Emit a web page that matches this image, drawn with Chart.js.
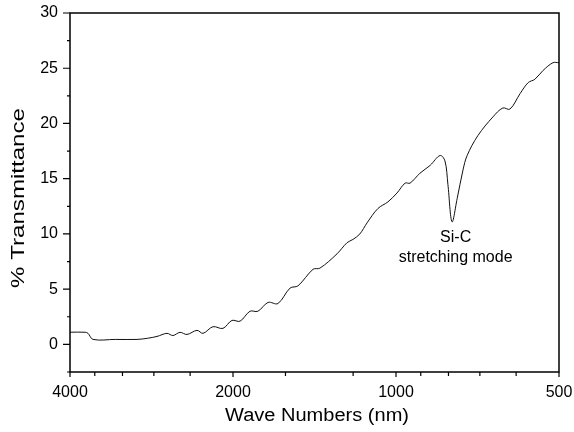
<!DOCTYPE html>
<html>
<head>
<meta charset="utf-8">
<script src="https://cdn.jsdelivr.net/npm/chart.js@4/dist/chart.umd.min.js"></script>
<style>
  html, body { margin: 0; padding: 0; background: #fff; }
  #wrap { width: 574px; height: 432px; }
</style>
</head>
<body>
<div id="wrap"><canvas id="irChart" width="574" height="432"></canvas></div>
<script>
// wave numbers
var waveNumbers = [4000, 3752, 3705, 3627, 3300, 3008, 2880, 2763, 2648, 2582, 2506, 2432, 2331, 2272, 2178, 2087,
    2009, 1941, 1861, 1799, 1723, 1652, 1569, 1517, 1423, 1382, 1285, 1232, 1201, 1166, 1131, 1080, 1035,
    996, 962, 942, 903, 865, 829, 812, 802, 788, 771, 752, 739, 706, 662, 635, 616, 590, 570, 554, 535, 513, 500];
// % transmittance
var transmittance = [1.1, 1.1, 1.0, 0.45, 0.45, 0.45, 0.55, 0.72, 1.0, 0.8, 1.09, 0.9, 1.27, 1.0, 1.6, 1.45,
    2.17, 2.1, 3.0, 3.0, 3.8, 3.7, 5.1, 5.3, 6.8, 6.9, 8.2, 9.2, 9.5, 10.0, 11.0, 12.3, 12.9,
    13.7, 14.6, 14.6, 15.5, 16.2, 17.1, 16.6, 14.5, 11.1, 13.2, 15.8, 17.1, 18.9, 20.6, 21.4, 21.3, 22.7, 23.7, 24.0, 24.8, 25.5, 25.5];

var xTicks = [4000, 3600, 3200, 2800, 2400, 2000, 1600, 1200, 1000, 900, 800, 700, 600, 500];
var xLabels = [4000, 2000, 1000, 500];
var yLabels = [0, 5, 10, 15, 20, 25, 30];

var points = waveNumbers.map(function (w, i) { return { x: w, y: transmittance[i] }; });

var FONT = '"Liberation Sans", Arial, Helvetica, sans-serif';

// Yazıyı istenen genişliğe gererek çiz
function stretchedText(c, text, x, y, size, width, angle) {
    c.save();
    c.font = size + 'px ' + FONT;
    var w = c.measureText(text).width;
    c.translate(x, y);
    c.rotate(angle);
    c.scale(width / w, 1);
    c.textAlign = 'center';
    c.textBaseline = 'middle';
    c.fillText(text, 0, 0);
    c.restore();
}

// Kutu çerçevesi, tick çizgileri, başlıklar
var frame = {
    id: 'frame',
    afterDraw: function (chart) {
        var c = chart.ctx, a = chart.chartArea;
        var xs = chart.scales.x, ys = chart.scales.y;
        c.save();
        c.strokeStyle = '#000';
        c.lineWidth = 1.5;
        c.strokeRect(a.left, a.top, a.right - a.left, a.bottom - a.top);
        c.lineWidth = 1.2;
        c.beginPath();
        xs.ticks.forEach(function (t) {
            var px = xs.getPixelForValue(t.value);
            var len = xLabels.indexOf(t.value) >= 0 ? 5 : 4;
            c.moveTo(px, a.bottom);
            c.lineTo(px, a.bottom + len);
        });
        ys.ticks.forEach(function (t) {
            var py = ys.getPixelForValue(t.value);
            var len = yLabels.indexOf(t.value) >= 0 ? 7 : 3;
            c.moveTo(a.left, py);
            c.lineTo(a.left - len, py);
        });
        c.stroke();

        c.fillStyle = '#000';
        // eksen başlıkları
        stretchedText(c, 'Wave Numbers (nm)', 317, 416, 18, 184, 0);
        stretchedText(c, '% Transmittance', 19, 198, 18, 180, -Math.PI / 2);

        // Si-C etiketi
        c.font = '16px ' + FONT;
        c.textAlign = 'center';
        c.textBaseline = 'middle';
        var lx = xs.getPixelForValue(776);
        c.fillText('Si-C', lx, ys.getPixelForValue(9.7));
        c.fillText('stretching mode', lx, ys.getPixelForValue(7.9));
        c.restore();
    }
};

var ctx = document.getElementById('irChart').getContext('2d');
var chart = new Chart(ctx, {
    type: 'line',
    data: {
        datasets: [{
            data: points,
            borderColor: '#111',
            borderWidth: 1,
            pointRadius: 0,
            tension: 0.35,
            fill: false
        }]
    },
    options: {
        responsive: false,
        animation: false,
        layout: { padding: { top: 13, right: 15, left: 0, bottom: 0 } },
        plugins: { legend: { display: false }, tooltip: { enabled: false } },
        scales: {
            x: {
                type: 'logarithmic',
                reverse: true,
                min: 500,
                max: 4000,
                afterBuildTicks: function (scale) {
                    scale.ticks = xTicks.map(function (v) { return { value: v }; });
                },
                afterFit: function (scale) {
                    scale.height = 60;
                    scale.paddingLeft = 0;
                    scale.paddingRight = 0;
                },
                grid: { display: false, drawTicks: false },
                border: { display: false },
                ticks: {
                    autoSkip: false,
                    maxRotation: 0,
                    padding: 11,
                    color: '#000',
                    font: { size: 16, family: FONT },
                    callback: function (v) { return xLabels.indexOf(v) >= 0 ? String(v) : ''; }
                }
            },
            y: {
                min: -2.5,
                max: 30,
                afterFit: function (scale) {
                    scale.width = 70;
                    scale.paddingTop = 0;
                    scale.paddingBottom = 0;
                },
                grid: { display: false, drawTicks: false },
                border: { display: false },
                ticks: {
                    stepSize: 2.5,
                    padding: 12,
                    color: '#000',
                    font: { size: 16, family: FONT },
                    callback: function (v) { return yLabels.indexOf(v) >= 0 ? String(v) : ''; }
                }
            }
        }
    },
    plugins: [frame]
});
</script>
</body>
</html>
